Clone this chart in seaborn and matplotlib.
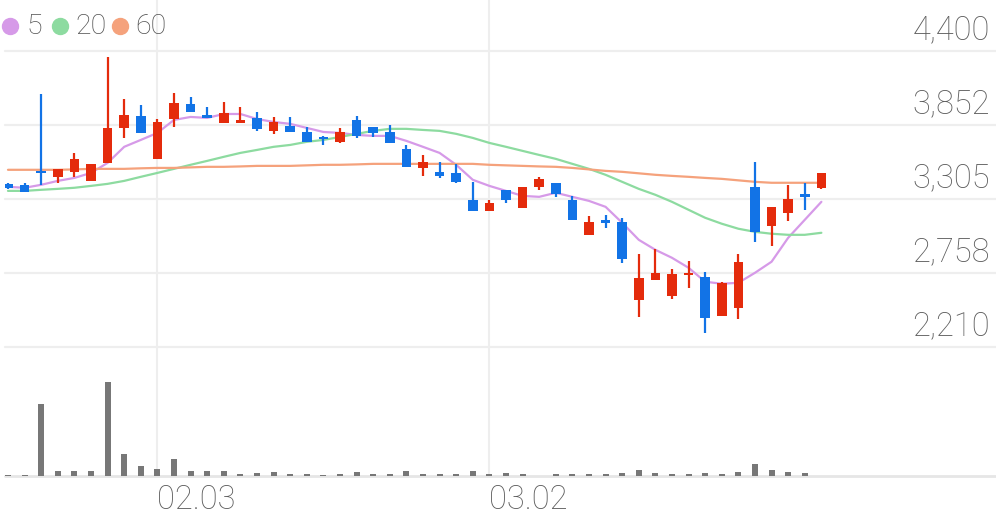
import numpy as np
import pandas as pd
import matplotlib
matplotlib.use("Agg")
import matplotlib.pyplot as plt
from matplotlib.lines import Line2D
import seaborn as sns

# daily candles (price in won)
opens = [3416, 3408, 3505, 3468, 3505, 3438, 3571, 3830, 3919, 3601,
         3897, 4008, 3926, 3867, 3867, 3904, 3808, 3845, 3801, 3764,
         3727, 3889, 3838, 3801, 3675, 3534, 3505, 3497, 3297, 3216,
         3371, 3238, 3394, 3423, 3297, 3038, 3149, 3135, 2557, 2705,
         2587, 2742, 2728, 2439, 2498, 3394, 3105, 3201, 3342, 3386]
highs = [3423, 3423, 4082, 3527, 3645, 3564, 4356, 4045, 4000, 3897,
         4089, 4060, 3986, 4023, 3986, 3949, 3912, 3912, 3838, 3771,
         3830, 3919, 3838, 3852, 3704, 3630, 3579, 3564, 3431, 3297,
         3371, 3394, 3468, 3423, 3327, 3179, 3186, 3164, 2898, 2935,
         2787, 2846, 2765, 2691, 2898, 3579, 3246, 3408, 3423, 3497]
lows = [3379, 3357, 3408, 3423, 3468, 3438, 3571, 3756, 3793, 3601,
        3838, 3949, 3904, 3867, 3867, 3808, 3786, 3801, 3727, 3704,
        3719, 3756, 3764, 3719, 3542, 3475, 3460, 3423, 3216, 3216,
        3275, 3238, 3371, 3320, 3149, 3038, 3090, 2831, 2432, 2705,
        2565, 2646, 2313, 2439, 2417, 2987, 2957, 3142, 3223, 3379]
closes = [3386, 3357, 3497, 3527, 3601, 3564, 3830, 3926, 3793, 3875,
          4015, 3949, 3904, 3941, 3889, 3823, 3875, 3801, 3727, 3749,
          3801, 3771, 3793, 3719, 3542, 3579, 3475, 3431, 3216, 3275,
          3297, 3394, 3453, 3342, 3149, 3135, 3127, 2861, 2720, 2757,
          2750, 2757, 2424, 2683, 2839, 3061, 3246, 3305, 3320, 3497]

ma5 = [3395, 3388, 3410, 3439, 3461, 3498, 3572, 3691, 3742, 3794,
       3890, 3912, 3905, 3934, 3934, 3897, 3875, 3861, 3831, 3801,
       3794, 3779, 3772, 3772, 3735, 3691, 3646, 3558, 3447, 3402,
       3365, 3328, 3321, 3351, 3321, 3291, 3247, 3129, 3003, 2929,
       2870, 2796, 2693, 2678, 2685, 2759, 2841, 3018, 3151, 3284]
ma20 = [3365, 3365, 3373, 3380, 3388, 3402, 3417, 3439, 3469, 3498,
        3528, 3558, 3587, 3617, 3646, 3668, 3691, 3705, 3728, 3742,
        3764, 3787, 3809, 3824, 3824, 3816, 3809, 3787, 3757, 3720,
        3691, 3661, 3631, 3602, 3565, 3528, 3484, 3432, 3380, 3336,
        3284, 3225, 3166, 3122, 3085, 3062, 3048, 3040, 3040, 3055]
ma60 = [3521, 3521, 3521, 3521, 3524, 3528, 3528, 3528, 3532, 3535,
        3535, 3539, 3543, 3543, 3546, 3550, 3550, 3550, 3554, 3558,
        3558, 3561, 3565, 3565, 3565, 3565, 3565, 3565, 3565, 3558,
        3554, 3550, 3546, 3543, 3535, 3524, 3513, 3506, 3495, 3484,
        3476, 3469, 3461, 3454, 3443, 3432, 3425, 3425, 3425, 3425]

volume = [8000, 8000, 864000, 60000, 60000, 60000, 1128000, 264000, 120000, 84000,
          204000, 60000, 60000, 60000, 30000, 36000, 48000, 30000, 30000, 10000,
          30000, 48000, 30000, 20000, 60000, 24000, 24000, 24000, 60000, 24000,
          36000, 24000, 6000, 24000, 24000, 24000, 24000, 36000, 72000, 36000,
          24000, 24000, 36000, 24000, 48000, 144000, 72000, 48000, 36000, 6000]

price_ticks = [4400, 3852, 3305, 2758, 2210]
date_idx = [9, 29]
date_labels = ["02.03", "03.02"]

RED = "#e42b0c"
BLUE = "#1273e6"
MA_COLORS = {"5": "#d69ae8", "20": "#8ddba0", "60": "#f5a27c"}
GRID = "#eeeeee"
TEXT = "#5c5c5c"

sns.set_theme(style="white")
plt.rcParams["font.family"] = ["Roboto", "DejaVu Sans"]

W, H = 996, 519
fig = plt.figure(figsize=(W / 100, H / 100), dpi=100)
fig.patch.set_facecolor("white")

x = np.arange(len(opens))
xlim = (-0.18, 59.52)
left = 5 / W
width = 991 / W

# background axes for the vertical date gridlines
ax_bg = fig.add_axes([left, 43 / H, width, 476 / H])
ax_bg.set_xlim(*xlim)
ax_bg.set_ylim(0, 1)
for i in date_idx:
    ax_bg.axvline(i, color=GRID, lw=1.5, zorder=0)
ax_bg.axis("off")

# price panel
ax = fig.add_axes([left, (H - 347) / H, width, 296 / H])
ax.patch.set_alpha(0)
ax.set_xlim(*xlim)
ax.set_ylim(price_ticks[-1], price_ticks[0])
for v in price_ticks:
    ax.axhline(v, color=GRID, lw=1.6, zorder=0, clip_on=False)
    ax.annotate(f"{v:,}", xy=(1.0, v), xycoords=ax.get_yaxis_transform(),
                xytext=(-6, 21), textcoords="offset pixels", ha="right", va="center",
                fontsize=23.5, color=TEXT, fontweight="light", annotation_clip=False)

ma_df = pd.DataFrame({
    "idx": np.tile(x, 3),
    "value": ma5 + ma20 + ma60,
    "ma": ["5"] * len(x) + ["20"] * len(x) + ["60"] * len(x),
})
sns.lineplot(data=ma_df, x="idx", y="value", hue="ma", palette=MA_COLORS,
             linewidth=1.6, legend=False, ax=ax, zorder=2)

o = np.array(opens)
c = np.array(closes)
up = c >= o
colors = np.where(up, RED, BLUE)
ax.vlines(x, lows, highs, colors=colors, lw=1.6, zorder=3)
body_lo = np.minimum(o, c)
body_h = np.maximum(np.abs(c - o), 14)
ax.bar(x, body_h, bottom=body_lo, width=0.58, color=colors, zorder=4, linewidth=0)
ax.set_xlabel("")
ax.set_ylabel("")
ax.set_xticks([])
ax.set_yticks([])
sns.despine(ax=ax, left=True, bottom=True)

# volume panel
axv = fig.add_axes([left, (H - 476) / H, width, 126 / H])
axv.patch.set_alpha(0)
axv.set_xlim(*xlim)
axv.set_ylim(0, 1512000)
axv.bar(x, volume, width=0.36, color="#777777", linewidth=0, zorder=2)
axv.axhline(0, color="#e6e6e6", lw=2.0, zorder=1, clip_on=False)
axv.set_yticks([])
axv.set_xticks(date_idx)
axv.set_xticklabels(date_labels)
axv.tick_params(axis="x", length=0, pad=6, labelsize=23.5, labelcolor=TEXT)
for t in axv.get_xticklabels():
    t.set_horizontalalignment("left")
    t.set_fontweight("light")
sns.despine(ax=axv, left=True, bottom=True)

# legend at top-left
legend_items = [("5", 10, 26), ("20", 60, 75), ("60", 120, 135)]
for name, cx, tx in legend_items:
    fig.add_artist(Line2D([cx / W], [1 - 26 / H], marker="o", markersize=11.5,
                          color=MA_COLORS[name], linestyle="none", transform=fig.transFigure))
    fig.text(tx / W, 1 - 26 / H, name, fontsize=20.5, color="#505050",
             va="center", ha="left", fontweight="light")

fig.savefig("out.png", dpi=100, facecolor="white")
